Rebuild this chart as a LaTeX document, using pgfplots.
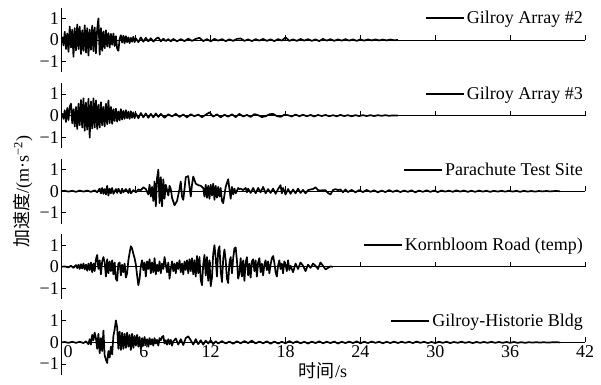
\documentclass[border=0pt]{standalone}
\usepackage{fontspec}
\setmainfont{Liberation Serif}
\newfontfamily\cjk{Noto Sans CJK SC}
\usepackage{pgfplots}
\pgfplotsset{compat=1.18}
\newcommand\fs{\fontsize{18}{20}\selectfont}
\tikzset{sig/.style={black, line width=1.7pt, line join=round, mark=none}}
\pgfplotsset{
 panel/.style={
  scale only axis, width=524pt, height=64.8pt,
  xmin=0, xmax=42, ymin=-1.5, ymax=1.5,
  axis x line=middle, axis y line=left,
  x axis line style={-, line width=0.8pt},
  y axis line style={-, line width=0.8pt},
  xtick={0.001,6,12,18,24,30,36,42}, ytick={-1,0,1}, yticklabels={−1,0,1},
  xticklabels={},
  tick align=inside, major tick length=5pt,
  tick style={line width=0.8pt, black},
  ticklabel style={font=\fs},
  yticklabel style={inner sep=2pt},
  anchor=origin,
  legend style={at={(1,0.8333)}, anchor=east, draw=none, fill=none, inner sep=0pt, font=\fs, nodes={inner sep=2pt}},
  legend image code/.code={\draw[#1, line width=2pt] (0pt,0pt) -- (38pt,0pt);},
 },
}
\begin{document}
\begin{tikzpicture}
\path[use as bounding box] (-61pt,40pt) rectangle (540pt,-344pt);
% Panel 1
\begin{axis}[panel, at={(0pt,0pt)}]
\addplot[sig] coordinates {(0.0,0.00)(0.1,0.12)(0.2,-0.25)(0.3,0.38)(0.4,-0.42)(0.5,0.30)(0.6,-0.55)(0.7,0.62)(0.8,-0.35)(0.9,0.48)(1.0,-0.78)(1.1,0.55)(1.2,-0.48)(1.3,0.72)(1.4,-0.42)(1.5,0.62)(1.6,-0.65)(1.7,0.45)(1.8,-0.50)(1.9,0.68)(2.0,-0.58)(2.1,0.55)(2.2,-0.72)(2.3,0.48)(2.4,-0.45)(2.5,0.66)(2.6,-0.52)(2.7,0.58)(2.8,-0.62)(2.9,0.50)(3.0,1.00)(3.1,-0.68)(3.2,0.55)(3.3,-0.50)(3.4,0.40)(3.5,-0.38)(3.6,0.45)(3.7,-0.30)(3.8,0.32)(3.9,-0.35)(4.0,0.28)(4.1,-0.22)(4.2,0.30)(4.3,-0.28)(4.4,0.18)(4.5,-0.40)(4.6,-0.50)(4.7,0.05)(4.8,0.22)(4.9,-0.12)(5.0,0.20)(5.1,-0.15)(5.2,0.18)(5.3,-0.10)(5.4,0.12)(5.5,-0.14)(5.6,0.10)(5.7,-0.08)(5.8,0.15)(5.9,-0.10)(6.0,0.08)(6.2,-0.10)(6.4,0.12)(6.6,-0.08)(6.8,0.10)(7.0,-0.06)(7.2,0.08)(7.4,-0.07)(7.6,0.05)(7.8,0.12)(8.0,-0.06)(8.2,0.06)(8.4,-0.05)(8.6,0.04)(8.8,-0.06)(9.0,0.05)(9.3,-0.06)(9.6,0.04)(9.9,-0.05)(10.2,0.06)(10.5,-0.04)(10.8,0.05)(11.1,0.10)(11.4,-0.05)(11.7,0.04)(12.0,-0.06)(12.3,0.05)(12.6,-0.03)(12.9,0.04)(13.2,-0.05)(13.5,0.03)(13.8,-0.04)(14.1,0.05)(14.4,0.07)(14.7,-0.04)(15.0,0.03)(15.3,-0.05)(15.6,0.04)(15.9,-0.03)(16.2,0.05)(16.5,-0.04)(16.8,0.03)(17.1,-0.05)(17.4,0.04)(17.7,-0.03)(18.0,0.12)(18.3,-0.04)(18.6,0.03)(18.9,-0.04)(19.2,0.05)(19.5,-0.03)(19.8,0.04)(20.1,-0.04)(20.4,0.03)(20.7,-0.05)(21.0,0.05)(21.3,-0.03)(21.6,0.04)(21.9,-0.04)(22.2,0.03)(22.5,-0.03)(22.8,0.04)(23.1,-0.03)(23.4,0.03)(23.7,-0.04)(24.0,0.03)(24.3,-0.03)(24.6,0.03)(24.9,-0.02)(25.2,0.03)(25.5,-0.02)(25.8,0.02)(26.1,-0.02)(26.4,0.02)(26.7,-0.01)(27.0,0)};
\addlegendentry{Gilroy Array \#2}
\end{axis}
% Panel 2
\begin{axis}[panel, at={(0pt,-75.6pt)}]
\addplot[sig] coordinates {(0.0,0.00)(0.1,0.08)(0.2,-0.15)(0.3,0.25)(0.4,-0.30)(0.5,0.35)(0.6,-0.20)(0.7,0.42)(0.8,0.55)(0.9,-0.35)(1.0,0.30)(1.1,-0.50)(1.2,0.40)(1.3,-0.62)(1.4,0.55)(1.5,-0.45)(1.6,0.72)(1.7,-0.55)(1.8,0.80)(1.9,-0.70)(2.0,0.60)(2.1,-0.65)(2.2,0.78)(2.3,-1.02)(2.4,0.65)(2.5,-0.60)(2.6,0.80)(2.7,-0.55)(2.8,0.70)(2.9,-0.62)(3.0,0.50)(3.1,-0.55)(3.2,0.62)(3.3,-0.45)(3.4,0.40)(3.5,-0.50)(3.6,0.55)(3.7,-0.40)(3.8,0.70)(3.9,-0.35)(4.0,0.40)(4.1,-0.38)(4.2,0.30)(4.3,-0.25)(4.4,0.32)(4.5,-0.28)(4.6,0.20)(4.7,-0.22)(4.8,0.30)(4.9,-0.18)(5.0,0.22)(5.1,-0.15)(5.2,0.25)(5.3,-0.12)(5.4,0.18)(5.5,-0.15)(5.6,0.20)(5.7,-0.10)(5.8,0.15)(5.9,-0.12)(6.0,0.10)(6.2,-0.12)(6.4,0.12)(6.6,-0.08)(6.8,0.10)(7.0,-0.10)(7.2,0.08)(7.4,-0.08)(7.6,0.10)(7.8,-0.06)(8.0,0.08)(8.3,-0.10)(8.6,0.06)(8.9,-0.04)(9.2,0.08)(9.5,-0.06)(9.8,0.05)(10.1,-0.08)(10.4,0.06)(10.7,-0.03)(11.0,0.05)(11.3,-0.07)(11.6,0.04)(11.9,0.15)(12.2,-0.05)(12.5,0.06)(12.8,-0.08)(13.1,0.04)(13.4,-0.05)(13.7,0.06)(14.0,-0.07)(14.3,0.08)(14.6,-0.04)(14.9,0.03)(15.2,-0.06)(15.5,0.07)(15.8,0.02)(16.1,-0.07)(16.4,-0.03)(16.7,0.06)(17.0,0.08)(17.3,-0.02)(17.6,-0.06)(17.9,0.04)(18.2,0.02)(18.5,-0.04)(18.8,0.05)(19.1,-0.03)(19.4,0.04)(19.7,-0.03)(20.0,0.03)(20.3,-0.04)(20.6,0.03)(20.9,-0.02)(21.2,0.03)(21.5,-0.03)(21.8,0.02)(22.1,-0.03)(22.4,0.03)(22.7,-0.02)(23.0,0.02)(23.3,-0.03)(23.6,0.02)(23.9,-0.02)(24.2,0.02)(24.5,-0.02)(24.8,0.02)(25.1,-0.02)(25.4,0.02)(25.7,-0.01)(26.0,0.02)(26.3,-0.01)(26.6,0.01)(27.0,0)};
\addlegendentry{Gilroy Array \#3}
\end{axis}
% Panel 3
\begin{axis}[panel, at={(0pt,-151.2pt)}, ylabel={{\cjk 加速度}/(m·s\textsuperscript{−2})}, ylabel style={at={(axis description cs:0,0.5)}, anchor=center, rotate=0, yshift=38pt, font=\fs}]
\addplot[sig] coordinates {(0.0,0.00)(0.3,0.02)(0.6,-0.02)(0.9,0.02)(1.2,-0.03)(1.5,0.03)(1.8,-0.02)(2.1,0.03)(2.4,-0.03)(2.7,0.04)(2.9,-0.05)(3.1,0.12)(3.2,-0.10)(3.3,0.15)(3.4,-0.12)(3.5,0.10)(3.6,-0.15)(3.7,0.25)(3.8,-0.20)(3.9,0.12)(4.0,-0.10)(4.1,0.15)(4.2,-0.12)(4.4,0.10)(4.5,-0.08)(4.6,0.12)(4.8,-0.10)(4.9,0.12)(5.0,-0.05)(5.2,0.10)(5.4,-0.08)(5.5,0.12)(5.6,-0.10)(5.8,0.05)(6.0,-0.05)(6.2,0.08)(6.4,0.05)(6.6,0.18)(6.8,0.10)(7.0,-0.15)(7.1,0.30)(7.2,-0.25)(7.3,0.20)(7.4,-0.45)(7.5,0.45)(7.6,-0.70)(7.7,0.60)(7.8,1.00)(7.9,-0.55)(8.0,0.65)(8.1,-0.70)(8.2,0.55)(8.3,-0.35)(8.4,0.30)(8.5,0.05)(8.6,-0.20)(8.7,0.25)(8.8,0.10)(8.9,-0.30)(9.1,-0.65)(9.3,-0.45)(9.5,0.10)(9.6,0.45)(9.7,-0.25)(9.8,-0.40)(9.9,0.10)(10.0,0.65)(10.2,0.70)(10.3,0.20)(10.4,-0.25)(10.5,0.30)(10.6,0.68)(10.8,0.35)(11.0,0.28)(11.2,0.25)(11.4,0.15)(11.5,-0.25)(11.6,0.30)(11.7,-0.30)(11.8,0.25)(11.9,-0.35)(12.0,0.30)(12.1,-0.20)(12.2,0.35)(12.3,-0.40)(12.4,0.25)(12.5,-0.30)(12.6,0.20)(12.7,-0.25)(12.8,0.15)(12.9,-0.45)(13.0,-0.55)(13.2,0.20)(13.4,0.55)(13.5,0.10)(13.6,-0.35)(13.7,0.20)(13.8,-0.15)(13.9,0.12)(14.0,-0.10)(14.2,0.15)(14.3,0.10)(14.4,0.12)(14.6,0.05)(14.8,0.15)(14.9,-0.05)(15.0,0.12)(15.2,-0.08)(15.4,0.15)(15.6,-0.10)(15.8,0.15)(16.0,-0.05)(16.2,0.20)(16.4,-0.10)(16.6,0.10)(16.8,-0.08)(17.0,0.12)(17.2,-0.12)(17.4,0.10)(17.6,0.28)(17.7,-0.10)(17.8,0.15)(18.0,-0.15)(18.2,0.10)(18.4,-0.12)(18.6,0.08)(18.8,-0.10)(19.0,0.12)(19.2,-0.08)(19.4,0.06)(19.6,-0.10)(19.8,0.05)(20.0,0.08)(20.2,0.10)(20.4,0.18)(20.6,0.05)(20.8,0.03)(21.0,0.05)(21.2,0.04)(21.4,-0.08)(21.6,-0.15)(21.8,0.05)(22.0,0.10)(22.2,0.05)(22.4,0.08)(22.6,-0.05)(22.8,0.08)(23.0,-0.04)(23.3,0.06)(23.6,-0.05)(23.9,0.05)(24.2,-0.04)(24.5,0.06)(24.8,-0.03)(25.1,0.04)(25.4,-0.05)(25.7,0.03)(26.0,-0.04)(26.3,0.05)(26.6,-0.03)(26.9,0.04)(27.2,-0.04)(27.5,0.03)(27.8,-0.03)(28.1,0.04)(28.4,-0.05)(28.7,0.03)(29.0,-0.03)(29.3,0.04)(29.6,-0.03)(29.9,0.03)(30.2,-0.04)(30.5,0.03)(30.8,-0.02)(31.1,0.03)(31.4,-0.03)(31.7,0.04)(32.0,-0.02)(32.3,0.03)(32.6,-0.03)(32.9,0.02)(33.2,-0.03)(33.5,0.03)(33.8,-0.02)(34.1,0.02)(34.4,-0.03)(34.7,0.02)(35.0,-0.02)(35.3,0.02)(35.6,-0.02)(35.9,0.02)(36.2,-0.02)(36.5,0.02)(36.8,-0.03)(37.1,0.02)(37.4,-0.02)(37.7,0.01)(38.0,-0.02)(38.3,0.01)(38.6,-0.01)(38.9,0.01)(39.2,-0.01)(39.6,0.01)(40.0,0)};
\addlegendentry{Parachute Test Site}
\end{axis}
% Panel 4
\begin{axis}[panel, at={(0pt,-226.8pt)}]
\addplot[sig] coordinates {(0.0,0.00)(0.3,0.02)(0.6,-0.03)(0.8,0.05)(1.0,-0.05)(1.2,0.08)(1.3,-0.06)(1.4,0.10)(1.5,-0.10)(1.6,0.12)(1.7,-0.08)(1.8,0.15)(1.9,-0.12)(2.0,0.10)(2.1,-0.18)(2.2,0.15)(2.3,-0.15)(2.4,0.20)(2.5,-0.25)(2.6,0.15)(2.7,-0.20)(2.8,0.35)(2.9,0.55)(3.0,-0.10)(3.1,0.30)(3.2,-0.35)(3.3,0.25)(3.4,0.45)(3.5,0.20)(3.6,-0.45)(3.7,0.35)(3.8,-0.30)(3.9,0.25)(4.0,-0.20)(4.1,0.30)(4.2,-0.35)(4.3,0.20)(4.4,-0.55)(4.5,-0.65)(4.6,0.15)(4.7,0.20)(4.8,-0.40)(4.9,0.10)(5.0,-0.25)(5.1,0.15)(5.2,-0.50)(5.3,-0.30)(5.4,0.30)(5.5,0.65)(5.6,0.95)(5.7,0.85)(5.8,0.60)(5.9,0.40)(6.0,0.10)(6.1,-0.40)(6.2,-0.85)(6.3,-0.55)(6.4,0.05)(6.5,0.30)(6.6,-0.15)(6.7,0.20)(6.8,-0.45)(6.9,0.25)(7.0,-0.10)(7.1,0.35)(7.2,-0.30)(7.3,0.20)(7.4,-0.25)(7.5,0.40)(7.6,-0.35)(7.7,0.10)(7.8,-0.20)(7.9,0.25)(8.0,-0.30)(8.1,0.15)(8.2,-0.10)(8.3,0.45)(8.4,0.10)(8.5,-0.25)(8.6,0.20)(8.7,-0.55)(8.8,-0.10)(8.9,0.25)(9.0,-0.20)(9.1,0.15)(9.2,-0.30)(9.3,0.20)(9.4,-0.10)(9.5,0.30)(9.6,-0.25)(9.7,0.15)(9.8,-0.35)(9.9,0.25)(10.0,-0.15)(10.1,0.30)(10.2,-0.30)(10.3,0.35)(10.4,-0.20)(10.5,0.40)(10.6,-0.35)(10.7,0.30)(10.8,-0.45)(10.9,0.50)(11.0,-0.30)(11.1,0.45)(11.2,-0.60)(11.3,-0.85)(11.4,0.10)(11.5,0.55)(11.6,-0.40)(11.7,0.45)(11.8,-0.65)(11.9,0.30)(12.0,-0.90)(12.1,-0.50)(12.2,0.60)(12.3,1.00)(12.4,0.40)(12.5,-0.45)(12.6,0.75)(12.7,0.95)(12.8,-0.20)(12.9,-0.70)(13.0,0.35)(13.1,0.80)(13.2,0.30)(13.3,-0.55)(13.4,-0.75)(13.5,0.20)(13.6,0.45)(13.7,-0.30)(13.8,0.40)(13.9,0.85)(14.0,0.90)(14.1,0.30)(14.2,-0.55)(14.3,-0.30)(14.4,0.40)(14.5,-0.45)(14.6,0.30)(14.7,-0.65)(14.8,0.20)(14.9,0.45)(15.0,-0.40)(15.1,0.15)(15.2,-0.50)(15.3,0.25)(15.4,0.35)(15.5,-0.20)(15.6,0.30)(15.7,-0.45)(15.8,0.20)(15.9,0.40)(16.0,-0.25)(16.1,0.15)(16.2,-0.40)(16.3,0.10)(16.4,0.30)(16.5,-0.15)(16.6,0.25)(16.7,-0.30)(16.8,0.10)(16.9,0.40)(17.0,0.50)(17.1,0.20)(17.2,-0.25)(17.3,-0.45)(17.4,0.05)(17.5,0.30)(17.6,-0.10)(17.7,0.15)(17.8,-0.30)(17.9,0.25)(18.0,0.10)(18.1,-0.20)(18.2,0.30)(18.3,-0.15)(18.4,0.05)(18.6,-0.25)(18.8,0.15)(19.0,-0.10)(19.2,0.20)(19.4,0.05)(19.6,-0.20)(19.8,0.10)(20.0,-0.05)(20.2,0.15)(20.4,0.05)(20.6,-0.10)(20.8,0.20)(21.0,0.05)(21.2,-0.12)(21.4,-0.05)(21.6,0.02)(21.8,0.00)};
\addlegendentry{Kornbloom Road (temp)}
\end{axis}
% Panel 5
\begin{axis}[panel, at={(0pt,-302.4pt)},
  xticklabels={\hspace*{14pt}0,\hspace*{16pt}6,12,18,24,30,36,42},
  xlabel={{\cjk 时间}/s}, xlabel style={at={(axis description cs:0.5,0)}, anchor=center, yshift=4pt, font=\fs}]
\addplot[sig] coordinates {(0.0,0.00)(0.3,0.02)(0.6,-0.02)(0.9,0.03)(1.2,-0.02)(1.5,0.03)(1.8,-0.03)(2.0,0.05)(2.2,-0.08)(2.3,0.15)(2.4,-0.10)(2.5,0.35)(2.6,0.10)(2.7,0.45)(2.8,0.20)(2.9,-0.30)(3.0,0.40)(3.1,-0.50)(3.2,0.20)(3.3,-0.40)(3.4,0.55)(3.5,-0.60)(3.6,-0.80)(3.7,-0.95)(3.8,-0.40)(3.9,-0.70)(4.0,-0.20)(4.1,-0.55)(4.2,0.30)(4.3,0.60)(4.4,1.02)(4.5,0.70)(4.6,-0.30)(4.7,0.50)(4.8,-0.35)(4.9,0.45)(5.0,-0.30)(5.1,0.40)(5.2,-0.25)(5.3,0.45)(5.4,-0.20)(5.5,0.35)(5.6,-0.35)(5.7,0.40)(5.8,-0.25)(5.9,0.30)(6.0,-0.15)(6.1,0.35)(6.2,-0.20)(6.3,0.25)(6.4,-0.30)(6.5,0.20)(6.6,-0.15)(6.7,0.25)(6.8,-0.10)(6.9,0.15)(7.0,-0.20)(7.1,0.20)(7.2,-0.10)(7.3,0.15)(7.4,-0.15)(7.5,0.20)(7.6,-0.05)(7.7,0.12)(7.8,-0.15)(7.9,0.20)(8.0,0.10)(8.1,0.25)(8.2,0.30)(8.3,-0.05)(8.4,0.10)(8.5,-0.10)(8.6,0.15)(8.7,-0.08)(8.8,0.12)(8.9,-0.15)(9.0,0.05)(9.2,0.18)(9.4,-0.10)(9.6,0.15)(9.8,-0.12)(10.0,0.20)(10.2,0.28)(10.4,0.10)(10.6,-0.10)(10.8,0.15)(11.0,-0.08)(11.2,0.10)(11.4,-0.10)(11.6,0.08)(11.8,-0.05)(12.0,0.10)(12.2,-0.08)(12.4,0.05)(12.6,-0.05)(12.9,0.06)(13.2,-0.05)(13.5,0.04)(13.8,-0.06)(14.1,0.05)(14.4,-0.04)(14.7,0.06)(15.0,-0.03)(15.3,0.08)(15.6,-0.05)(15.9,0.04)(16.2,-0.04)(16.5,0.05)(16.8,-0.06)(17.1,0.04)(17.4,-0.05)(17.7,0.03)(18.0,-0.04)(18.3,0.06)(18.6,-0.03)(18.9,0.05)(19.2,-0.04)(19.5,0.03)(19.8,-0.05)(20.1,0.04)(20.4,-0.03)(20.7,0.05)(21.0,-0.04)(21.3,0.03)(21.6,-0.03)(21.9,0.04)(22.2,-0.05)(22.5,0.03)(22.8,-0.03)(23.1,0.04)(23.4,-0.03)(23.7,0.05)(24.0,-0.04)(24.3,0.03)(24.6,-0.03)(24.9,0.04)(25.2,-0.02)(25.5,0.03)(25.8,-0.04)(26.1,0.03)(26.4,-0.03)(26.7,0.04)(27.0,-0.03)(27.3,0.03)(27.6,-0.02)(27.9,0.03)(28.2,-0.03)(28.5,0.04)(28.8,-0.02)(29.1,0.03)(29.4,-0.03)(29.7,0.02)(30.0,-0.03)(30.3,0.03)(30.6,-0.02)(30.9,0.03)(31.2,-0.03)(31.5,0.02)(31.8,-0.02)(32.1,0.03)(32.4,-0.02)(32.7,0.02)(33.0,-0.03)(33.3,0.02)(33.6,-0.02)(33.9,0.02)(34.2,-0.02)(34.5,0.03)(34.8,-0.02)(35.1,0.02)(35.4,-0.02)(35.7,0.02)(36.0,-0.02)(36.3,0.02)(36.6,-0.02)(36.9,0.01)(37.2,-0.02)(37.5,0.01)(37.8,-0.01)(38.1,0.01)(38.4,-0.01)(38.7,0.01)(39.0,-0.01)(39.5,0.01)(40.0,0)};
\addlegendentry{Gilroy-Historie Bldg}
\end{axis}
\end{tikzpicture}
\end{document}
